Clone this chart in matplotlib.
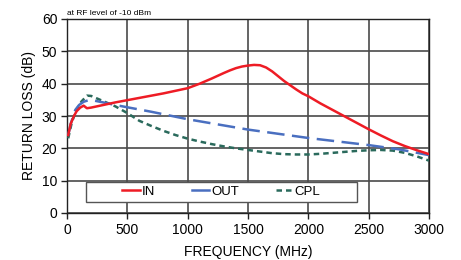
import matplotlib
matplotlib.use("Agg")
import matplotlib.pyplot as plt
from matplotlib.patches import Rectangle
from matplotlib.lines import Line2D

plt.rcParams['font.family'] = ['Liberation Sans', 'DejaVu Sans']

# ---- data ----
in_freq = [10, 30, 55, 80, 110, 138, 165, 200, 300, 400, 500, 600, 700, 800, 900,
           1000, 1100, 1200, 1300, 1350, 1400, 1450, 1500, 1550, 1600, 1650, 1700,
           1750, 1800, 1850, 1900, 1950, 2000, 2100, 2200, 2300, 2400, 2500, 2600,
           2700, 2800, 2900, 3000]
in_rl = [24.1, 27.5, 29.8, 31.5, 32.6, 33.2, 32.4, 32.6, 33.4, 34.2, 34.9, 35.6,
         36.3, 37.0, 37.8, 38.6, 40.0, 41.6, 43.3, 44.1, 44.8, 45.3, 45.6, 45.8,
         45.7, 45.0, 43.8, 42.3, 40.8, 39.5, 38.2, 37.0, 36.1, 33.9, 31.9, 29.9,
         27.9, 25.9, 24.0, 22.2, 20.7, 19.4, 18.2]

out_freq = [10, 30, 69, 100, 138, 180, 220, 300, 400, 500, 700, 1000, 1500, 2000,
            2500, 2750, 3000]
out_rl = [24.0, 27.5, 31.9, 33.4, 34.4, 34.9, 34.8, 34.2, 33.4, 32.7, 31.3, 29.0,
          25.8, 23.2, 21.0, 19.7, 17.9]

cpl_freq = [10, 41, 80, 120, 166, 200, 300, 400, 500, 600, 700, 800, 900, 1000,
            1100, 1200, 1300, 1400, 1500, 1600, 1700, 1800, 1900, 2000, 2100, 2200,
            2300, 2400, 2500, 2600, 2700, 2800, 2900, 3000]
cpl_rl = [23.1, 28.2, 32.0, 34.5, 36.3, 36.2, 34.6, 33.0, 30.9, 28.5, 26.9, 25.4,
          24.1, 23.0, 22.1, 21.3, 20.6, 20.0, 19.5, 19.0, 18.5, 18.2, 18.1, 18.1,
          18.3, 18.6, 18.9, 19.2, 19.4, 19.5, 19.3, 18.6, 17.5, 16.2]

x_ticks = [0, 500, 1000, 1500, 2000, 2500, 3000]
y_ticks = [0, 10, 20, 30, 40, 50, 60]

# ---- figure ----
fig = plt.figure(figsize=(4.61, 2.60), dpi=100)
ax = fig.add_axes([67/461, 1-213/260, (429-67)/461, (213-19)/260])

ax.set_xlim(0, 3000)
ax.set_ylim(0, 60)
ax.set_xticks(x_ticks)
ax.set_yticks(y_ticks)
ax.grid(True, color='#4a4a4a', linewidth=1.2)
ax.set_axisbelow(True)
for s in ax.spines.values():
    s.set_color('#222222')
    s.set_linewidth(1.0)
ax.tick_params(direction='out', length=4, width=1, color='#222222',
               labelsize=10, pad=3)

ax.plot(in_freq, in_rl, color='#ee1c25', lw=1.8, label='IN', zorder=5)
ax.plot(out_freq, out_rl, color='#4a6fc0', lw=1.8, dashes=(7, 3),
        label='OUT', zorder=4)
ax.plot(cpl_freq, cpl_rl, color='#2a6a5c', lw=1.8, dashes=(2.2, 1.6),
        label='CPL', zorder=3)

ax.set_xlabel('FREQUENCY (MHz)', fontsize=10, labelpad=6)
ax.set_ylabel('RETURN LOSS (dB)', fontsize=10, labelpad=4)

ax.text(0.0, 1.012, 'at RF level of -10 dBm', transform=ax.transAxes,
        fontsize=6, ha='left', va='bottom')

# legend box
ax.add_patch(Rectangle((157, 3.4), 2403 - 157, 9.6 - 3.4, facecolor='white',
                       edgecolor='#555555', linewidth=1.0, zorder=6))
h_in = Line2D([], [], color='#ee1c25', lw=1.8)
h_out = Line2D([], [], color='#4a6fc0', lw=1.8)
h_cpl = Line2D([], [], color='#2a6a5c', lw=1.8, dashes=(2.2, 1.6))
leg = ax.legend([h_in, h_out, h_cpl], ['IN', 'OUT', 'CPL'], ncol=3,
                loc='center', bbox_to_anchor=((157 + 2403) / 2 / 3000, 6.5 / 60),
                frameon=False, fontsize=9.5, handlelength=1.3, handletextpad=0.15,
                columnspacing=2.8)
leg.set_zorder(7)

fig.savefig('out.png', dpi=100)
